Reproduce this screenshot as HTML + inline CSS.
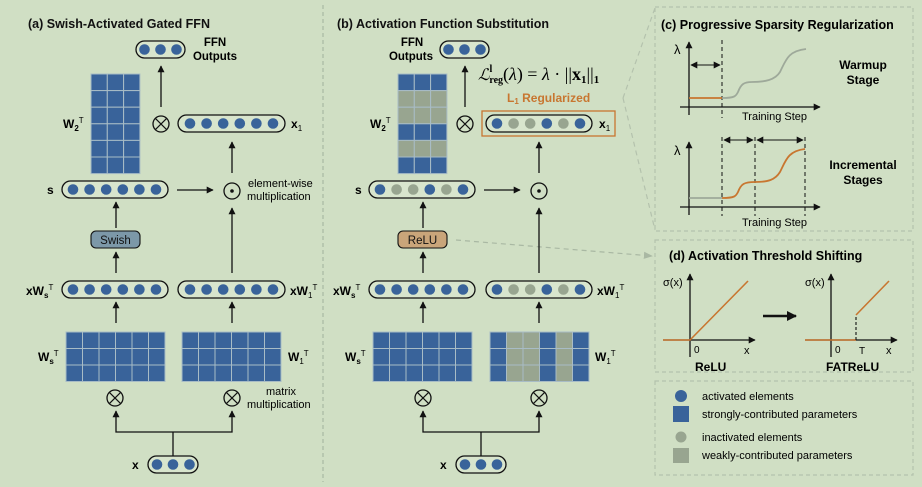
<!DOCTYPE html>
<html><head><meta charset="utf-8"><style>
html,body{margin:0;padding:0;background:#d0dfc4;}
svg{display:block;font-family:"Liberation Sans",sans-serif;}
.b{font-weight:bold;}
</style></head><body>
<svg width="922" height="487" viewBox="0 0 922 487" xmlns="http://www.w3.org/2000/svg">
<defs>
<marker id="ah" viewBox="0 0 10 10" refX="9" refY="5" markerWidth="7" markerHeight="7" orient="auto-start-reverse" markerUnits="userSpaceOnUse"><path d="M0,0 L10,5 L0,10 z" fill="#111"/></marker>
<marker id="ahg" viewBox="0 0 10 10" refX="9" refY="5" markerWidth="9" markerHeight="9" orient="auto" markerUnits="userSpaceOnUse"><path d="M0,1 L10,5 L0,9 z" fill="#a9b8a3"/></marker>
<marker id="ahb" viewBox="0 0 10 10" refX="9" refY="5" markerWidth="10" markerHeight="10" orient="auto" markerUnits="userSpaceOnUse"><path d="M0,0 L10,5 L0,10 z" fill="#111"/></marker>
<g id="otimes"><circle r="8" fill="none" stroke="#111" stroke-width="1.3"/><path d="M-5.6,-5.6 L5.6,5.6 M-5.6,5.6 L5.6,-5.6" stroke="#111" stroke-width="1.2"/></g>
<g id="odot"><circle r="8" fill="none" stroke="#111" stroke-width="1.3"/><circle r="1.8" fill="#111"/></g>
</defs>
<rect width="922" height="487" fill="#d0dfc4"/>

<!-- divider -->
<line x1="323" y1="5" x2="323" y2="482" stroke="#a9b8a3" stroke-width="1.2" stroke-dasharray="4,3"/>

<!-- ============ PANEL A ============ -->
<text x="28" y="28" class="b" font-size="12.5" fill="#111">(a) Swish-Activated Gated FFN</text>
<rect x="136" y="41" width="49" height="17" rx="8.5" fill="#d8e5cd" stroke="#111" stroke-width="1.3"/>
<g fill="#39639a"><circle cx="144.5" cy="49.5" r="5.3"/><circle cx="160.5" cy="49.5" r="5.3"/><circle cx="176.5" cy="49.5" r="5.3"/></g>
<text x="215" y="46" class="b" font-size="11.5" text-anchor="middle">FFN</text>
<text x="215" y="60" class="b" font-size="11.5" text-anchor="middle">Outputs</text>
<line x1="161" y1="107" x2="161" y2="66" stroke="#111" stroke-width="1.3" marker-end="url(#ah)"/>
<!-- W2 -->
<g stroke="#a8bcc6" stroke-width="1" fill="#39639a">
<rect x="91" y="74" width="16.3" height="16.6"/><rect x="107.3" y="74" width="16.3" height="16.6"/><rect x="123.6" y="74" width="16.3" height="16.6"/>
<rect x="91" y="90.6" width="16.3" height="16.6"/><rect x="107.3" y="90.6" width="16.3" height="16.6"/><rect x="123.6" y="90.6" width="16.3" height="16.6"/>
<rect x="91" y="107.2" width="16.3" height="16.6"/><rect x="107.3" y="107.2" width="16.3" height="16.6"/><rect x="123.6" y="107.2" width="16.3" height="16.6"/>
<rect x="91" y="123.8" width="16.3" height="16.6"/><rect x="107.3" y="123.8" width="16.3" height="16.6"/><rect x="123.6" y="123.8" width="16.3" height="16.6"/>
<rect x="91" y="140.4" width="16.3" height="16.6"/><rect x="107.3" y="140.4" width="16.3" height="16.6"/><rect x="123.6" y="140.4" width="16.3" height="16.6"/>
<rect x="91" y="157" width="16.3" height="16.6"/><rect x="107.3" y="157" width="16.3" height="16.6"/><rect x="123.6" y="157" width="16.3" height="16.6"/>
</g>
<text x="63" y="128" class="b" font-size="12">W<tspan font-size="8" dy="3">2</tspan><tspan font-size="8" dy="-8" font-weight="normal">T</tspan></text>
<use href="#otimes" x="161" y="124"/>
<rect x="178" y="115" width="107" height="17" rx="8.5" fill="#d8e5cd" stroke="#111" stroke-width="1.3"/>
<g fill="#39639a"><circle cx="190" cy="123.5" r="5.3"/><circle cx="206.6" cy="123.5" r="5.3"/><circle cx="223.2" cy="123.5" r="5.3"/><circle cx="239.8" cy="123.5" r="5.3"/><circle cx="256.4" cy="123.5" r="5.3"/><circle cx="273" cy="123.5" r="5.3"/></g>
<text x="291" y="128" class="b" font-size="12">x<tspan font-size="8" dy="3" font-weight="normal">1</tspan></text>
<line x1="232" y1="173" x2="232" y2="142" stroke="#111" stroke-width="1.3" marker-end="url(#ah)"/>
<rect x="62" y="181" width="106" height="17" rx="8.5" fill="#d8e5cd" stroke="#111" stroke-width="1.3"/>
<g fill="#39639a"><circle cx="73" cy="189.5" r="5.3"/><circle cx="89.6" cy="189.5" r="5.3"/><circle cx="106.2" cy="189.5" r="5.3"/><circle cx="122.8" cy="189.5" r="5.3"/><circle cx="139.4" cy="189.5" r="5.3"/><circle cx="156" cy="189.5" r="5.3"/></g>
<text x="47" y="194" class="b" font-size="12">s</text>
<line x1="177" y1="190" x2="213" y2="190" stroke="#111" stroke-width="1.3" marker-end="url(#ah)"/>
<use href="#odot" x="232" y="191"/>
<text x="248" y="187" font-size="11">element-wise</text>
<text x="247" y="200" font-size="11">multiplication</text>
<line x1="116" y1="228" x2="116" y2="202" stroke="#111" stroke-width="1.3" marker-end="url(#ah)"/>
<rect x="91" y="231" width="49" height="17" rx="5" fill="#7c98a8" stroke="#111" stroke-width="1.1"/>
<text x="115.5" y="244" font-size="11.5" text-anchor="middle" fill="#111">Swish</text>
<line x1="232" y1="273" x2="232" y2="208" stroke="#111" stroke-width="1.3" marker-end="url(#ah)"/>
<line x1="116" y1="273" x2="116" y2="252" stroke="#111" stroke-width="1.3" marker-end="url(#ah)"/>
<rect x="62" y="281" width="106" height="17" rx="8.5" fill="#d8e5cd" stroke="#111" stroke-width="1.3"/>
<g fill="#39639a"><circle cx="73" cy="289.5" r="5.3"/><circle cx="89.6" cy="289.5" r="5.3"/><circle cx="106.2" cy="289.5" r="5.3"/><circle cx="122.8" cy="289.5" r="5.3"/><circle cx="139.4" cy="289.5" r="5.3"/><circle cx="156" cy="289.5" r="5.3"/></g>
<rect x="178" y="281" width="107" height="17" rx="8.5" fill="#d8e5cd" stroke="#111" stroke-width="1.3"/>
<g fill="#39639a"><circle cx="190" cy="289.5" r="5.3"/><circle cx="206.6" cy="289.5" r="5.3"/><circle cx="223.2" cy="289.5" r="5.3"/><circle cx="239.8" cy="289.5" r="5.3"/><circle cx="256.4" cy="289.5" r="5.3"/><circle cx="273" cy="289.5" r="5.3"/></g>
<text x="26" y="295" class="b" font-size="12">xW<tspan font-size="8" dy="3">s</tspan><tspan font-size="8" dy="-8" font-weight="normal">T</tspan></text>
<text x="290" y="295" class="b" font-size="12">xW<tspan font-size="8" dy="3" font-weight="normal">1</tspan><tspan font-size="8" dy="-8" font-weight="normal">T</tspan></text>
<line x1="116" y1="323" x2="116" y2="302" stroke="#111" stroke-width="1.3" marker-end="url(#ah)"/>
<line x1="232" y1="323" x2="232" y2="302" stroke="#111" stroke-width="1.3" marker-end="url(#ah)"/>
<!-- Ws matrix A -->
<g stroke="#a8bcc6" stroke-width="1" fill="#39639a">
<rect x="66" y="332" width="16.5" height="16.5"/><rect x="82.5" y="332" width="16.5" height="16.5"/><rect x="99" y="332" width="16.5" height="16.5"/><rect x="115.5" y="332" width="16.5" height="16.5"/><rect x="132" y="332" width="16.5" height="16.5"/><rect x="148.5" y="332" width="16.5" height="16.5"/>
<rect x="66" y="348.5" width="16.5" height="16.5"/><rect x="82.5" y="348.5" width="16.5" height="16.5"/><rect x="99" y="348.5" width="16.5" height="16.5"/><rect x="115.5" y="348.5" width="16.5" height="16.5"/><rect x="132" y="348.5" width="16.5" height="16.5"/><rect x="148.5" y="348.5" width="16.5" height="16.5"/>
<rect x="66" y="365" width="16.5" height="16.5"/><rect x="82.5" y="365" width="16.5" height="16.5"/><rect x="99" y="365" width="16.5" height="16.5"/><rect x="115.5" y="365" width="16.5" height="16.5"/><rect x="132" y="365" width="16.5" height="16.5"/><rect x="148.5" y="365" width="16.5" height="16.5"/>
</g>
<g stroke="#a8bcc6" stroke-width="1" fill="#39639a">
<rect x="182" y="332" width="16.5" height="16.5"/><rect x="198.5" y="332" width="16.5" height="16.5"/><rect x="215" y="332" width="16.5" height="16.5"/><rect x="231.5" y="332" width="16.5" height="16.5"/><rect x="248" y="332" width="16.5" height="16.5"/><rect x="264.5" y="332" width="16.5" height="16.5"/>
<rect x="182" y="348.5" width="16.5" height="16.5"/><rect x="198.5" y="348.5" width="16.5" height="16.5"/><rect x="215" y="348.5" width="16.5" height="16.5"/><rect x="231.5" y="348.5" width="16.5" height="16.5"/><rect x="248" y="348.5" width="16.5" height="16.5"/><rect x="264.5" y="348.5" width="16.5" height="16.5"/>
<rect x="182" y="365" width="16.5" height="16.5"/><rect x="198.5" y="365" width="16.5" height="16.5"/><rect x="215" y="365" width="16.5" height="16.5"/><rect x="231.5" y="365" width="16.5" height="16.5"/><rect x="248" y="365" width="16.5" height="16.5"/><rect x="264.5" y="365" width="16.5" height="16.5"/>
</g>
<text x="38" y="361" class="b" font-size="12">W<tspan font-size="8" dy="3">s</tspan><tspan font-size="8" dy="-8" font-weight="normal">T</tspan></text>
<text x="288" y="361" class="b" font-size="12">W<tspan font-size="8" dy="3" font-weight="normal">1</tspan><tspan font-size="8" dy="-8" font-weight="normal">T</tspan></text>
<use href="#otimes" x="115" y="398"/>
<use href="#otimes" x="232" y="398"/>
<text x="266" y="395" font-size="11">matrix</text>
<text x="247" y="408" font-size="11">multiplication</text>
<polyline points="116,411 116,432 232,432 232,411" fill="none" stroke="#111" stroke-width="1.3" marker-start="url(#ah)" marker-end="url(#ah)"/>
<line x1="173" y1="432" x2="173" y2="456" stroke="#111" stroke-width="1.3"/>
<rect x="148" y="456" width="50" height="17" rx="8.5" fill="#d8e5cd" stroke="#111" stroke-width="1.3"/>
<g fill="#39639a"><circle cx="157" cy="464.5" r="5.3"/><circle cx="173" cy="464.5" r="5.3"/><circle cx="189.5" cy="464.5" r="5.3"/></g>
<text x="132" y="469" class="b" font-size="12">x</text>

<!-- ============ PANEL B ============ -->
<text x="337" y="28" class="b" font-size="12.5" fill="#111">(b) Activation Function Substitution</text>
<rect x="440" y="41" width="49" height="17" rx="8.5" fill="#d8e5cd" stroke="#111" stroke-width="1.3"/>
<g fill="#39639a"><circle cx="448.5" cy="49.5" r="5.3"/><circle cx="464.5" cy="49.5" r="5.3"/><circle cx="480.5" cy="49.5" r="5.3"/></g>
<text x="412" y="46" class="b" font-size="11.5" text-anchor="middle">FFN</text>
<text x="411" y="60" class="b" font-size="11.5" text-anchor="middle">Outputs</text>
<line x1="465" y1="107" x2="465" y2="66" stroke="#111" stroke-width="1.3" marker-end="url(#ah)"/>
<text x="478" y="80" font-family="Liberation Serif,serif" font-size="18"><tspan font-style="italic" font-family="DejaVu Serif,serif" font-size="16">ℒ</tspan><tspan font-size="10" font-weight="bold" dy="-8">l</tspan><tspan font-size="10" font-weight="bold" dy="11" dx="-3">reg</tspan><tspan dy="-3">(</tspan><tspan font-style="italic">λ</tspan>) = <tspan font-style="italic">λ</tspan> · ||<tspan font-weight="bold">x</tspan><tspan font-weight="bold" font-size="11" dy="3">1</tspan><tspan dy="-3">||</tspan><tspan font-weight="bold" font-size="11" dy="3">1</tspan></text>
<text x="507" y="102" class="b" font-size="12" fill="#c87630">L<tspan font-size="8" dy="2">1</tspan><tspan dy="-2"> Regularized</tspan></text>
<g stroke="#a8bcc6" stroke-width="1">
<rect x="398" y="74" width="16.3" height="16.6" fill="#39639a"/><rect x="414.3" y="74" width="16.3" height="16.6" fill="#39639a"/><rect x="430.6" y="74" width="16.3" height="16.6" fill="#39639a"/>
<rect x="398" y="90.6" width="16.3" height="16.6" fill="#98a590"/><rect x="414.3" y="90.6" width="16.3" height="16.6" fill="#98a590"/><rect x="430.6" y="90.6" width="16.3" height="16.6" fill="#98a590"/>
<rect x="398" y="107.2" width="16.3" height="16.6" fill="#98a590"/><rect x="414.3" y="107.2" width="16.3" height="16.6" fill="#98a590"/><rect x="430.6" y="107.2" width="16.3" height="16.6" fill="#98a590"/>
<rect x="398" y="123.8" width="16.3" height="16.6" fill="#39639a"/><rect x="414.3" y="123.8" width="16.3" height="16.6" fill="#39639a"/><rect x="430.6" y="123.8" width="16.3" height="16.6" fill="#39639a"/>
<rect x="398" y="140.4" width="16.3" height="16.6" fill="#98a590"/><rect x="414.3" y="140.4" width="16.3" height="16.6" fill="#98a590"/><rect x="430.6" y="140.4" width="16.3" height="16.6" fill="#98a590"/>
<rect x="398" y="157" width="16.3" height="16.6" fill="#39639a"/><rect x="414.3" y="157" width="16.3" height="16.6" fill="#39639a"/><rect x="430.6" y="157" width="16.3" height="16.6" fill="#39639a"/>
</g>
<text x="370" y="128" class="b" font-size="12">W<tspan font-size="8" dy="3">2</tspan><tspan font-size="8" dy="-8" font-weight="normal">T</tspan></text>
<use href="#otimes" x="465" y="124"/>
<rect x="482" y="111" width="133" height="25" fill="none" stroke="#c87630" stroke-width="1.3"/>
<rect x="486" y="115" width="106" height="17" rx="8.5" fill="#d8e5cd" stroke="#111" stroke-width="1.3"/>
<circle cx="497" cy="123.5" r="5.3" fill="#39639a"/><circle cx="513.6" cy="123.5" r="5.3" fill="#98a590"/><circle cx="530.2" cy="123.5" r="5.3" fill="#98a590"/><circle cx="546.8" cy="123.5" r="5.3" fill="#39639a"/><circle cx="563.4" cy="123.5" r="5.3" fill="#98a590"/><circle cx="580" cy="123.5" r="5.3" fill="#39639a"/>
<text x="599" y="128" class="b" font-size="12">x<tspan font-size="8" dy="3" font-weight="normal">1</tspan></text>
<line x1="539" y1="173" x2="539" y2="142" stroke="#111" stroke-width="1.3" marker-end="url(#ah)"/>
<rect x="369" y="181" width="106" height="17" rx="8.5" fill="#d8e5cd" stroke="#111" stroke-width="1.3"/>
<circle cx="380" cy="189.5" r="5.3" fill="#39639a"/><circle cx="396.6" cy="189.5" r="5.3" fill="#98a590"/><circle cx="413.2" cy="189.5" r="5.3" fill="#98a590"/><circle cx="429.8" cy="189.5" r="5.3" fill="#39639a"/><circle cx="446.4" cy="189.5" r="5.3" fill="#98a590"/><circle cx="463" cy="189.5" r="5.3" fill="#39639a"/>
<text x="355" y="194" class="b" font-size="12">s</text>
<line x1="484" y1="190" x2="520" y2="190" stroke="#111" stroke-width="1.3" marker-end="url(#ah)"/>
<use href="#odot" x="539" y="191"/>
<line x1="423" y1="228" x2="423" y2="202" stroke="#111" stroke-width="1.3" marker-end="url(#ah)"/>
<rect x="398" y="231" width="49" height="17" rx="5" fill="#c9a57a" stroke="#111" stroke-width="1.1"/>
<text x="422.5" y="244" font-size="11.5" text-anchor="middle" fill="#111">ReLU</text>
<line x1="456" y1="240" x2="652" y2="256" stroke="#a9b8a3" stroke-width="1.2" stroke-dasharray="5,4" marker-end="url(#ahg)"/>
<line x1="539" y1="273" x2="539" y2="208" stroke="#111" stroke-width="1.3" marker-end="url(#ah)"/>
<line x1="423" y1="273" x2="423" y2="252" stroke="#111" stroke-width="1.3" marker-end="url(#ah)"/>
<rect x="369" y="281" width="106" height="17" rx="8.5" fill="#d8e5cd" stroke="#111" stroke-width="1.3"/>
<g fill="#39639a"><circle cx="380" cy="289.5" r="5.3"/><circle cx="396.6" cy="289.5" r="5.3"/><circle cx="413.2" cy="289.5" r="5.3"/><circle cx="429.8" cy="289.5" r="5.3"/><circle cx="446.4" cy="289.5" r="5.3"/><circle cx="463" cy="289.5" r="5.3"/></g>
<rect x="486" y="281" width="106" height="17" rx="8.5" fill="#d8e5cd" stroke="#111" stroke-width="1.3"/>
<circle cx="497" cy="289.5" r="5.3" fill="#39639a"/><circle cx="513.6" cy="289.5" r="5.3" fill="#98a590"/><circle cx="530.2" cy="289.5" r="5.3" fill="#98a590"/><circle cx="546.8" cy="289.5" r="5.3" fill="#39639a"/><circle cx="563.4" cy="289.5" r="5.3" fill="#98a590"/><circle cx="580" cy="289.5" r="5.3" fill="#39639a"/>
<text x="333" y="295" class="b" font-size="12">xW<tspan font-size="8" dy="3">s</tspan><tspan font-size="8" dy="-8" font-weight="normal">T</tspan></text>
<text x="597" y="295" class="b" font-size="12">xW<tspan font-size="8" dy="3" font-weight="normal">1</tspan><tspan font-size="8" dy="-8" font-weight="normal">T</tspan></text>
<line x1="423" y1="323" x2="423" y2="302" stroke="#111" stroke-width="1.3" marker-end="url(#ah)"/>
<line x1="539" y1="323" x2="539" y2="302" stroke="#111" stroke-width="1.3" marker-end="url(#ah)"/>
<g stroke="#a8bcc6" stroke-width="1" fill="#39639a">
<rect x="373" y="332" width="16.5" height="16.5"/><rect x="389.5" y="332" width="16.5" height="16.5"/><rect x="406" y="332" width="16.5" height="16.5"/><rect x="422.5" y="332" width="16.5" height="16.5"/><rect x="439" y="332" width="16.5" height="16.5"/><rect x="455.5" y="332" width="16.5" height="16.5"/>
<rect x="373" y="348.5" width="16.5" height="16.5"/><rect x="389.5" y="348.5" width="16.5" height="16.5"/><rect x="406" y="348.5" width="16.5" height="16.5"/><rect x="422.5" y="348.5" width="16.5" height="16.5"/><rect x="439" y="348.5" width="16.5" height="16.5"/><rect x="455.5" y="348.5" width="16.5" height="16.5"/>
<rect x="373" y="365" width="16.5" height="16.5"/><rect x="389.5" y="365" width="16.5" height="16.5"/><rect x="406" y="365" width="16.5" height="16.5"/><rect x="422.5" y="365" width="16.5" height="16.5"/><rect x="439" y="365" width="16.5" height="16.5"/><rect x="455.5" y="365" width="16.5" height="16.5"/>
</g>
<g stroke="#a8bcc6" stroke-width="1">
<rect x="490" y="332" width="16.5" height="16.5" fill="#39639a"/><rect x="506.5" y="332" width="16.5" height="16.5" fill="#98a590"/><rect x="523" y="332" width="16.5" height="16.5" fill="#98a590"/><rect x="539.5" y="332" width="16.5" height="16.5" fill="#39639a"/><rect x="556" y="332" width="16.5" height="16.5" fill="#98a590"/><rect x="572.5" y="332" width="16.5" height="16.5" fill="#39639a"/>
<rect x="490" y="348.5" width="16.5" height="16.5" fill="#39639a"/><rect x="506.5" y="348.5" width="16.5" height="16.5" fill="#98a590"/><rect x="523" y="348.5" width="16.5" height="16.5" fill="#98a590"/><rect x="539.5" y="348.5" width="16.5" height="16.5" fill="#39639a"/><rect x="556" y="348.5" width="16.5" height="16.5" fill="#98a590"/><rect x="572.5" y="348.5" width="16.5" height="16.5" fill="#39639a"/>
<rect x="490" y="365" width="16.5" height="16.5" fill="#39639a"/><rect x="506.5" y="365" width="16.5" height="16.5" fill="#98a590"/><rect x="523" y="365" width="16.5" height="16.5" fill="#98a590"/><rect x="539.5" y="365" width="16.5" height="16.5" fill="#39639a"/><rect x="556" y="365" width="16.5" height="16.5" fill="#98a590"/><rect x="572.5" y="365" width="16.5" height="16.5" fill="#39639a"/>
</g>
<text x="345" y="361" class="b" font-size="12">W<tspan font-size="8" dy="3">s</tspan><tspan font-size="8" dy="-8" font-weight="normal">T</tspan></text>
<text x="595" y="361" class="b" font-size="12">W<tspan font-size="8" dy="3" font-weight="normal">1</tspan><tspan font-size="8" dy="-8" font-weight="normal">T</tspan></text>
<use href="#otimes" x="423" y="398"/>
<use href="#otimes" x="539" y="398"/>
<polyline points="423,411 423,432 539,432 539,411" fill="none" stroke="#111" stroke-width="1.3" marker-start="url(#ah)" marker-end="url(#ah)"/>
<line x1="481" y1="432" x2="481" y2="456" stroke="#111" stroke-width="1.3"/>
<rect x="456" y="456" width="50" height="17" rx="8.5" fill="#d8e5cd" stroke="#111" stroke-width="1.3"/>
<g fill="#39639a"><circle cx="465" cy="464.5" r="5.3"/><circle cx="481" cy="464.5" r="5.3"/><circle cx="497" cy="464.5" r="5.3"/></g>
<text x="440" y="469" class="b" font-size="12">x</text>

<!-- zoom lines -->
<line x1="623" y1="98" x2="655" y2="8" stroke="#b4c2ad" stroke-width="1.2" stroke-dasharray="5,4"/>
<line x1="623" y1="98" x2="655" y2="230" stroke="#b4c2ad" stroke-width="1.2" stroke-dasharray="5,4"/>

<!-- ============ PANEL C ============ -->
<rect x="655" y="7" width="258" height="224" fill="none" stroke="#b4c2ad" stroke-width="1.2" stroke-dasharray="4,3"/>
<text x="661" y="29" class="b" font-size="12.5">(c) Progressive Sparsity Regularization</text>
<text x="674" y="54" font-size="13">λ</text>
<line x1="689" y1="115" x2="689" y2="42" stroke="#111" stroke-width="1.3" marker-end="url(#ah)"/>
<line x1="680" y1="107" x2="820" y2="107" stroke="#111" stroke-width="1.3" marker-end="url(#ah)"/>
<line x1="722" y1="40" x2="722" y2="118" stroke="#111" stroke-width="1" stroke-dasharray="4,3"/>
<line x1="691" y1="65" x2="720" y2="65" stroke="#111" stroke-width="1.1" marker-start="url(#ah)" marker-end="url(#ah)"/>
<line x1="689" y1="98" x2="722" y2="98" stroke="#c87630" stroke-width="1.8"/>
<path d="M722,98 C735,98 736,96 738,92 C741,84 744,82 752,82 C765,82 775,80 780,72 C786,60 788,51 806,49" fill="none" stroke="#9ea99a" stroke-width="1.8"/>
<text x="742" y="120" font-size="11">Training Step</text>
<text x="863" y="69" class="b" font-size="12" text-anchor="middle">Warmup</text>
<text x="863" y="84" class="b" font-size="12" text-anchor="middle">Stage</text>
<text x="674" y="155" font-size="13">λ</text>
<line x1="689" y1="215" x2="689" y2="142" stroke="#111" stroke-width="1.3" marker-end="url(#ah)"/>
<line x1="680" y1="207" x2="820" y2="207" stroke="#111" stroke-width="1.3" marker-end="url(#ah)"/>
<line x1="722" y1="137" x2="722" y2="216" stroke="#111" stroke-width="1" stroke-dasharray="4,3"/>
<line x1="755" y1="137" x2="755" y2="216" stroke="#111" stroke-width="1" stroke-dasharray="4,3"/>
<line x1="805" y1="137" x2="805" y2="216" stroke="#111" stroke-width="1" stroke-dasharray="4,3"/>
<line x1="724" y1="140" x2="753" y2="140" stroke="#111" stroke-width="1.1" marker-start="url(#ah)" marker-end="url(#ah)"/>
<line x1="757" y1="140" x2="803" y2="140" stroke="#111" stroke-width="1.1" marker-start="url(#ah)" marker-end="url(#ah)"/>
<line x1="689" y1="198" x2="722" y2="198" stroke="#9ea99a" stroke-width="1.8"/>
<path d="M722,198 C735,198 736,196 738,192 C741,184 744,182 755,182 C768,182 775,180 780,172 C786,160 788,151 805,149" fill="none" stroke="#c87630" stroke-width="1.8"/>
<text x="742" y="226" font-size="11">Training Step</text>
<text x="863" y="169" class="b" font-size="12" text-anchor="middle">Incremental</text>
<text x="863" y="184" class="b" font-size="12" text-anchor="middle">Stages</text>

<!-- ============ PANEL D ============ -->
<rect x="655" y="240" width="258" height="132" fill="none" stroke="#b4c2ad" stroke-width="1.2" stroke-dasharray="4,3"/>
<text x="669" y="260" class="b" font-size="12.5">(d) Activation Threshold Shifting</text>
<text x="663" y="286" font-size="11">σ(x)</text>
<line x1="690" y1="357" x2="690" y2="274" stroke="#111" stroke-width="1.3" marker-end="url(#ah)"/>
<line x1="663" y1="340" x2="755" y2="340" stroke="#111" stroke-width="1.3" marker-end="url(#ah)"/>
<polyline points="663,340 690,340 748,281" fill="none" stroke="#c87630" stroke-width="1.6"/>
<text x="694" y="353" font-size="10">0</text>
<text x="744" y="354" font-size="11">x</text>
<text x="695" y="371" class="b" font-size="12">ReLU</text>
<line x1="763" y1="316" x2="796" y2="316" stroke="#111" stroke-width="2.5" marker-end="url(#ahb)"/>
<text x="805" y="286" font-size="11">σ(x)</text>
<line x1="831" y1="357" x2="831" y2="274" stroke="#111" stroke-width="1.3" marker-end="url(#ah)"/>
<line x1="805" y1="340" x2="897" y2="340" stroke="#111" stroke-width="1.3" marker-end="url(#ah)"/>
<line x1="805" y1="340" x2="856" y2="340" stroke="#c87630" stroke-width="1.6"/>
<line x1="856" y1="340" x2="856" y2="315" stroke="#111" stroke-width="1.1" stroke-dasharray="3,2"/>
<line x1="856" y1="315" x2="889" y2="281" stroke="#c87630" stroke-width="1.6"/>
<text x="835" y="353" font-size="10">0</text>
<text x="859" y="354" font-size="10">T</text>
<text x="886" y="354" font-size="11">x</text>
<text x="826" y="371" class="b" font-size="12">FATReLU</text>

<!-- legend -->
<rect x="655" y="381" width="258" height="94" fill="none" stroke="#b4c2ad" stroke-width="1.2" stroke-dasharray="4,3"/>
<circle cx="681" cy="396" r="6" fill="#39639a"/>
<text x="702" y="400" font-size="11">activated elements</text>
<rect x="673" y="406" width="16" height="16" fill="#39639a"/>
<text x="702" y="418" font-size="11">strongly-contributed parameters</text>
<circle cx="681" cy="437" r="5.5" fill="#98a590"/>
<text x="702" y="441" font-size="11">inactivated elements</text>
<rect x="673" y="448" width="16" height="15" fill="#98a590"/>
<text x="702" y="459" font-size="11">weakly-contributed parameters</text>
</svg>
</body></html>
